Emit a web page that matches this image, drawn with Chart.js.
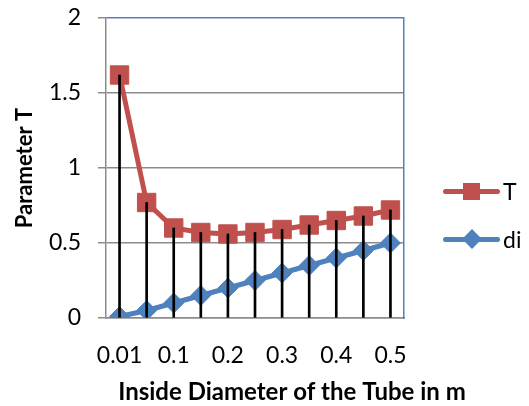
<!DOCTYPE html>
<html>
<head>
<meta charset="utf-8">
<script src="https://cdn.jsdelivr.net/npm/chart.js@4.4.1/dist/chart.umd.min.js"></script>
<style>
  html, body { margin: 0; padding: 0; background: #fff; }
  #wrap { position: relative; width: 529px; height: 406px; }
  #legend { position: absolute; left: 443px; top: 0; font-family: Lato, sans-serif; font-size: 23px; color: #000; }
  .item { position: absolute; left: 0; height: 24px; display: flex; align-items: center; white-space: nowrap; }
  .key { position: relative; width: 57px; height: 24px; margin-right: 3px; }
  .key .ln { position: absolute; left: 0; right: 0; top: 9.5px; height: 5px; border-radius: 2.5px; }
  .key .mk { position: absolute; left: 50%; top: 50%; }
</style>
</head>
<body>
<div id="wrap">
  <canvas id="chart" width="529" height="406"></canvas>
  <div id="legend"></div>
</div>
<script>
// --- DATA ---
const categories = ['0.01', '0.05', '0.1', '0.15', '0.2', '0.25', '0.3', '0.35', '0.4', '0.45', '0.5'];
const seriesT = [1.62, 0.77, 0.60, 0.57, 0.56, 0.57, 0.59, 0.62, 0.65, 0.68, 0.72];
const seriesDi = [0.01, 0.05, 0.1, 0.15, 0.2, 0.25, 0.3, 0.35, 0.4, 0.45, 0.5];
const yTicks = [0, 0.5, 1, 1.5, 2];
const seriesNames = ['T', 'di'];
const yTitle = 'Parameter T';
const xTitle = 'Inside Diameter of the Tube in m';

const RED = '#C0504D';
const BLUE = '#4F81BD';
const GRID = '#8c8c8c';
const FONT = 'Lato, sans-serif';

// x axis title sits off-centre in the original, drawn here by hand
const xTitlePlugin = {
    id: 'xTitle',
    afterDraw(chart) {
        const { ctx, chartArea } = chart;
        ctx.save();
        ctx.font = 'bold 24px ' + FONT;
        ctx.fillStyle = '#000';
        ctx.textAlign = 'center';
        ctx.textBaseline = 'alphabetic';
        ctx.fillText(xTitle, (chartArea.left + chartArea.right) / 2 + 37, 400);
        ctx.restore();
    }
};

// keep the plot box fixed: no extra room for label overhang
function noOverhang(s) { s.paddingTop = 0; s.paddingBottom = 0; }

new Chart(document.getElementById('chart'), {
    type: 'bar',
    data: {
        labels: categories,
        datasets: [
            {
                type: 'bar',
                label: 'drop',
                data: seriesT,
                backgroundColor: '#000',
                barThickness: 2,
                order: 0
            },
            {
                type: 'line',
                label: seriesNames[0],
                data: seriesT,
                borderColor: RED,
                borderWidth: 5,
                pointStyle: 'rect',
                pointRadius: 13,
                pointBackgroundColor: RED,
                pointBorderColor: RED,
                pointBorderWidth: 1,
                tension: 0,
                order: 1
            },
            {
                type: 'line',
                label: seriesNames[1],
                data: seriesDi,
                borderColor: BLUE,
                borderWidth: 5,
                pointStyle: 'rectRot',
                pointRadius: 10,
                pointBackgroundColor: BLUE,
                pointBorderColor: BLUE,
                pointBorderWidth: 1,
                tension: 0,
                order: 2
            }
        ]
    },
    options: {
        responsive: false,
        animation: false,
        layout: { padding: { top: 18, right: 125, bottom: 0, left: 0 } },
        plugins: { legend: { display: false }, tooltip: { enabled: false } },
        scales: {
            x: {
                offset: true,
                grid: { display: false, drawTicks: false },
                border: { display: true, color: GRID, width: 1.5 },
                ticks: {
                    autoSkip: false,
                    maxRotation: 0,
                    padding: 24,
                    color: '#000',
                    font: { family: FONT, size: 23 },
                    callback: (v, i) => (i % 2 === 0 ? categories[i] : '')
                },
                afterFit: s => { s.height = 88; }
            },
            y: {
                min: 0,
                max: 2,
                afterBuildTicks: s => { s.ticks = yTicks.map(v => ({ value: v })); },
                grid: {
                    color: c => (c.tick && c.tick.value === 2 ? BLUE : GRID),
                    tickColor: GRID,
                    lineWidth: 1.5,
                    tickLength: 8
                },
                border: { display: true, color: GRID, width: 1.5 },
                ticks: {
                    padding: 17,
                    color: '#000',
                    font: { family: FONT, size: 23 },
                    callback: v => String(v)
                },
                title: {
                    display: true,
                    text: yTitle,
                    color: '#000',
                    font: { family: FONT, size: 22, weight: 'bold' },
                    padding: { top: 12, bottom: 0 }
                },
                afterFit: s => { s.width = 106; noOverhang(s); }
            },
            y2: {
                position: 'right',
                min: 0,
                max: 2,
                grid: { display: false, drawTicks: false },
                border: { display: true, color: BLUE, width: 1.5 },
                ticks: { display: false },
                afterFit: s => { s.width = 0; noOverhang(s); }
            }
        }
    },
    plugins: [xTitlePlugin]
});

// --- LEGEND ---
const legendRows = [
    { name: seriesNames[0], color: RED, top: 179, marker: 'width:17px;height:17px;margin:-8.5px 0 0 -8.5px;' },
    { name: seriesNames[1], color: BLUE, top: 227, marker: 'width:14px;height:14px;margin:-7px 0 0 -7px;transform:rotate(45deg);' }
];
document.getElementById('legend').innerHTML = legendRows.map(r => `
    <div class="item" style="top:${r.top}px">
        <div class="key">
            <div class="ln" style="background:${r.color}"></div>
            <div class="mk" style="background:${r.color};${r.marker}"></div>
        </div>${r.name}
    </div>`).join('');
</script>
</body>
</html>
